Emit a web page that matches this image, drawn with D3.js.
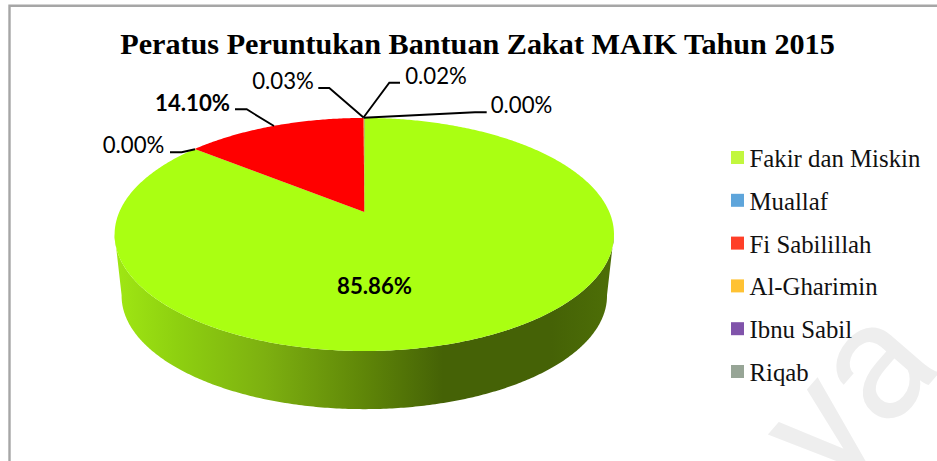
<!DOCTYPE html>
<html><head><meta charset="utf-8">
<script src="https://cdn.jsdelivr.net/npm/d3@7"></script>
<style>html,body{margin:0;padding:0;background:#fff}svg{display:block}</style></head>
<body><svg id="c" width="937" height="461"></svg>
<script>
const categories = ["Fakir dan Miskin","Muallaf","Fi Sabilillah","Al-Gharimin","Ibnu Sabil","Riqab"];
const values = [85.86,0.00,14.10,0.03,0.02,0.00];
const valueLabels = ["85.86%","0.00%","14.10%","0.03%","0.02%","0.00%"];
const sliceColors = ["#aaff12","#5b9bd5","#ff0000","#ffc000","#7030a0","#8e9e8a"];
const legendColors = ["#c2f73e","#5ea5db","#ff3f28","#ffc233","#8053aa","#97a596"];
const titleText = "Peratus Peruntukan Bantuan Zakat MAIK Tahun 2015";

const svg = d3.select("#c");
const W = 937;
const defs = svg.append("defs");
const cx = 364.3, cy = 212, a = 245, b = 112.2, k = 0.193;
const project = (t, s = 1, dy = 0) => {
  const u = Math.sin(t), v = Math.cos(t), d = 1 + k * v;
  return [cx + s * a * u / d, cy + dy - s * b * v / d];
};
const sampled = (t0, t1, s, dy, step = 0.01) => {
  const n = Math.max(1, Math.ceil(Math.abs(t1 - t0) / step));
  return d3.range(n + 1).map(i => project(t0 + (t1 - t0) * i / n, s, dy));
};
const line = d3.line();

const grad = defs.append("linearGradient").attr("id","side")
  .attr("gradientUnits","userSpaceOnUse").attr("x1",118).attr("x2",610).attr("y1",0).attr("y2",0);
[[0,"#9fe613"],[0.12,"#8ed010"],[0.3,"#7db010"],[0.5,"#5f8608"],[0.66,"#456206"],[0.88,"#456206"],[1,"#4d6e07"]]
  .forEach(([o,c]) => grad.append("stop").attr("offset",o).attr("stop-color",c));

// watermark
svg.append("text").attr("transform","translate(945,366) rotate(-49)")
  .attr("font-family","Roboto, sans-serif").attr("font-size",168).attr("fill","#eeeeee")
  .attr("text-anchor","end").text("ya");

// frame
svg.append("path").attr("d",`M9.5,461V5.8H${W}`).attr("fill","none").attr("stroke","#a6a6a6").attr("stroke-width",2.4);

svg.append("text").attr("x",477.5).attr("y",54).attr("text-anchor","middle")
  .attr("font-family","'Liberation Serif', serif").attr("font-weight","bold").attr("font-size",30.2)
  .attr("fill","#000").text(titleText);

// side wall
const sLow = 0.972, dyLow = 62;
const tR = Math.PI * 0.56, tL = Math.PI * 1.44;
const sidePts = sampled(tR, tL, 1, 0).concat(sampled(tL, tR, sLow, dyLow));
svg.append("path").attr("d", line(sidePts) + "Z").attr("fill","url(#side)");

// top
const arcs = d3.pie().sort(null).value(d => d).startAngle(0).endAngle(2*Math.PI)(values);
svg.append("g").selectAll("path").data(arcs).join("path")
  .attr("d", d => line([[cx,cy], ...sampled(d.startAngle, d.endAngle, 1, 0)]) + "Z")
  .attr("fill", d => sliceColors[d.index]);

// leaders & labels
const labelPos = [
  {x:374.5,y:294,bold:true},
  {x:133.5,y:153,bold:false},
  {x:192.5,y:111,bold:true},
  {x:283,y:89,bold:false},
  {x:436,y:84,bold:false},
  {x:521.5,y:113,bold:false}
];
const leaders = [null,
  [[170,152.3],[181.7,152.3],[195,149.3]],
  [[235,109.3],[246.7,109.3],[274,126]],
  [[318.3,88],[329.3,88],[363.5,117.5]],
  [[400,82.7],[389.3,82.7],[363.5,117.5]],
  [[486.7,112.3],[475,112.3],[363.5,117.7]]];
leaders.forEach(l => { if (l) svg.append("path").attr("d", line(l)).attr("fill","none").attr("stroke","#000").attr("stroke-width",1.9); });
svg.append("g").selectAll("text").data(valueLabels).join("text")
  .attr("x",(d,i)=>labelPos[i].x).attr("y",(d,i)=>labelPos[i].y)
  .attr("text-anchor","middle").attr("font-family","Lato, sans-serif").attr("font-size",22.2)
  .attr("font-weight",(d,i)=>labelPos[i].bold?"bold":"normal").attr("fill","#000").text(d=>d);

// legend
const ly = d3.scalePoint().domain(categories).range([157.5,371.5]);
const lg = svg.append("g").selectAll("g").data(categories).join("g")
  .attr("transform", d => `translate(0,${ly(d)})`);
lg.append("rect").attr("x",731).attr("y",-6.5).attr("width",13).attr("height",13).attr("fill",(d,i)=>legendColors[i]);
lg.append("text").attr("x",749.5).attr("y",9.5).attr("font-family","'Liberation Serif', serif")
  .attr("font-size",24.8).attr("fill","#111").text(d=>d);
</script></body></html>
